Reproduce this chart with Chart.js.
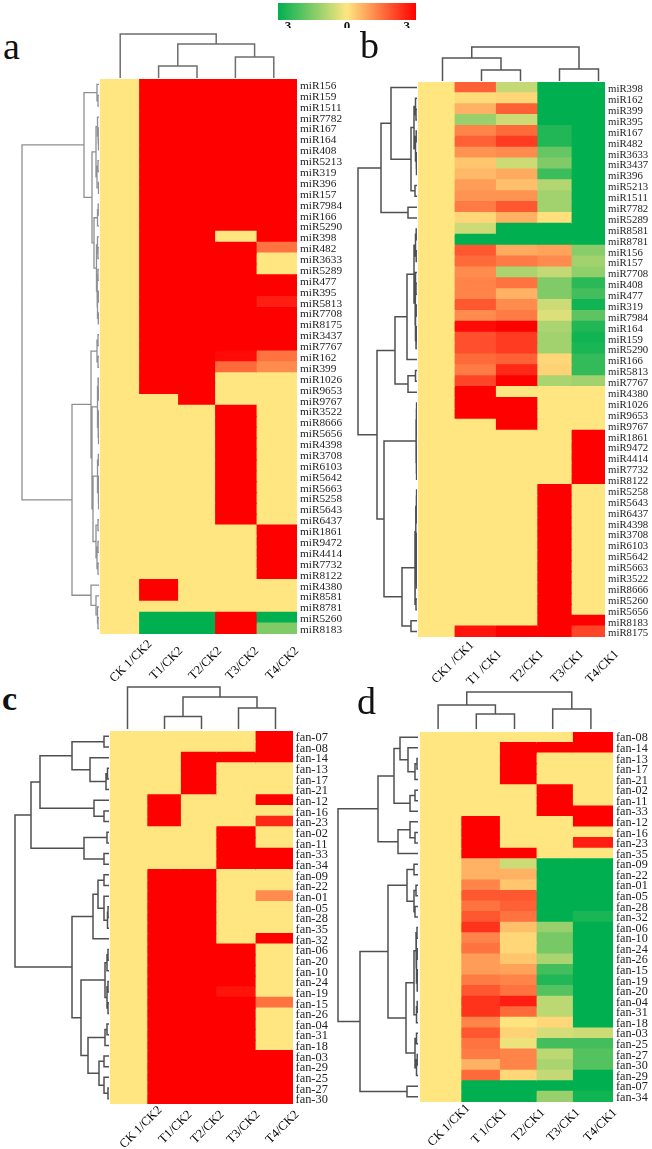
<!DOCTYPE html>
<html><head><meta charset="utf-8">
<style>
html,body{margin:0;padding:0;background:#fff;width:652px;height:1149px;overflow:hidden}
canvas{position:absolute;display:block}
.tag{position:absolute;font-family:"Liberation Serif",serif;color:#111;line-height:1}
</style>
<script src="https://cdn.jsdelivr.net/npm/chart.js@4/dist/chart.umd.min.js"></script>
</head><body>
<script>
// ---------- data ----------
const legendTickValues=[-2.57,0,2.6];
const legendTickLabels=['3','0','3'];

const columnsA=['CK 1/CK2','T1/CK2','T2/CK2','T3/CK2','T4/CK2'];
const columnsB=['CK1 /CK1','T1 /CK1','T2/CK1','T3/CK1','T4/CK1'];
const columnsC=['CK 1/CK2','T1/CK2','T2/CK2','T3/CK2','T4/CK2'];
const columnsD=['CK 1/CK1','T 1/CK1','T2/CK1','T3/CK1','T4/CK1'];

const rowsA=['miR156','miR159','miR1511','miR7782','miR167','miR164','miR408','miR5213','miR319','miR396','miR157','miR7984','miR166','miR5290','miR398','miR482','miR3633','miR5289','miR477','miR395','miR5813','miR7708','miR8175','miR3437','miR7767','miR162','miR399','miR1026','miR9653','miR9767','miR3522','miR8666','miR5656','miR4398','miR3708','miR6103','miR5642','miR5663','miR5258','miR5643','miR6437','miR1861','miR9472','miR4414','miR7732','miR8122','miR4380','miR8581','miR8781','miR5260','miR8183'];
const valuesA=[[0,3,3,3,3],[0,3,3,3,3],[0,3,3,3,3],[0,3,3,3,3],[0,3,3,3,3],[0,3,3,3,3],[0,3,3,3,3],[0,3,3,3,3],[0,3,3,3,3],[0,3,3,3,3],[0,3,3,3,3],[0,3,3,3,3],[0,3,3,3,3],[0,3,3,3,3],
[0,3,3,0,3],[0,3,3,3,1.8],[0,3,3,3,0],[0,3,3,3,0],[0,3,3,3,3],[0,3,3,3,3],[0,3,3,3,2.7],[0,3,3,3,3],[0,3,3,3,3],[0,3,3,3,3],[0,3,3,3,3],[0,3,3,2.9,1.8],[0,3,3,1.9,1.5],[0,3,3,0,0],[0,3,3,0,0],[0,0,3,0,0],
[0,0,0,3,0],[0,0,0,3,0],[0,0,0,3,0],[0,0,0,3,0],[0,0,0,3,0],[0,0,0,3,0],[0,0,0,3,0],[0,0,0,3,0],[0,0,0,3,0],[0,0,0,3,0],[0,0,0,3,0],
[0,0,0,0,3],[0,0,0,0,3],[0,0,0,0,3],[0,0,0,0,3],[0,0,0,0,3],[0,3,0,0,0],[0,3,0,0,0],[0,0,0,0,0],[0,-3,-3,3,-3],[0,-3,-3,3,-1.5]];

const rowsB=['miR398','miR162','miR399','miR395','miR167','miR482','miR3633','miR3437','miR396','miR5213','miR1511','miR7782','miR5289','miR8581','miR8781','miR156','miR157','miR7708','miR408','miR477','miR319','miR7984','miR164','miR159','miR5290','miR166','miR5813','miR7767','miR4380','miR1026','miR9653','miR9767','miR1861','miR9472','miR4414','miR7732','miR8122','miR5258','miR5643','miR6437','miR4398','miR3708','miR6103','miR5642','miR5663','miR3522','miR8666','miR5260','miR5656','miR8183','miR8175'];
const valuesB=[[0,2,-0.7,-3,-3],[0,0.3,0.4,-3,-3],[0,1,2,-3,-3],[0,-1.2,-0.6,-3,-3],[0,1.6,1.9,-2.6,-3],[0,2,2.4,-2.6,-3],[0,1.4,1.5,-1.8,-3],[0,0.7,-0.6,-1.5,-3],[0,0.9,1.1,-2.3,-3],[0,1.3,0.8,-0.9,-3],[0,1.4,1.4,-1.1,-3],[0,1.7,2.1,-1.1,-3],[0,0.4,1,0.2,-3],[0,-0.6,-3,-3,-3],[0,-3,-3,-3,-3],
[0,2.1,1.1,1.2,-1.4],[0,1.9,1.7,1.5,-1.1],[0,1.5,-1,-0.7,-1.3],[0,1.6,1.8,-1.5,-2.5],[0,1.6,1,-1.5,-2.2],[0,2.1,1.5,-0.6,-2.8],[0,1.5,1.7,-0.4,-1.9],[0,2.9,3,-1,-2.6],[0,2.2,2.4,-1.1,-2.8],[0,2.2,2.4,-1.1,-2.7],[0,1.9,2,0.4,-2.4],[0,1.7,2.6,0.5,-2.4],[0,2.3,3,-1,-1.1],
[0,3,0,0,0],[0,3,3,0,0],[0,3,3,0,0],[0,0,3,0,0],[0,0,0,0,3],[0,0,0,0,3],[0,0,0,0,3],[0,0,0,0,3],[0,0,0,0,3],
[0,0,0,3,0],[0,0,0,3,0],[0,0,0,3,0],[0,0,0,3,0],[0,0,0,3,0],[0,0,0,3,0],[0,0,0,3,0],[0,0,0,3,0],[0,0,0,3,0],[0,0,0,3,0],[0,0,0,3,0],[0,0,0,3,0],[0,0,0,3,3],[0,2.8,3,3,2.3]];

const rowsC=['fan-07','fan-08','fan-14','fan-13','fan-17','fan-21','fan-12','fan-16','fan-23','fan-02','fan-11','fan-33','fan-34','fan-09','fan-22','fan-01','fan-05','fan-28','fan-35','fan-32','fan-06','fan-20','fan-10','fan-24','fan-19','fan-15','fan-26','fan-04','fan-31','fan-18','fan-03','fan-29','fan-25','fan-27','fan-30'];
const valuesC=[[0,0,0,0,3],[0,0,0,0,3],[0,0,3,3,3],[0,0,3,0,0],[0,0,3,0,0],[0,0,3,0,0],[0,3,0,0,3],[0,3,0,0,0],[0,3,0,0,2.6],[0,0,0,3,0],[0,0,0,3,0],[0,0,0,3,3],[0,0,0,3,3],
[0,3,3,0,0],[0,3,3,0,0],[0,3,3,0,1.5],[0,3,3,0,0],[0,3,3,0,0],[0,3,3,0,0],[0,3,3,0,3],[0,3,3,3,0],[0,3,3,3,0],[0,3,3,3,0],[0,3,3,3,0],[0,3,3,2.8,0],[0,3,3,3,1.8],[0,3,3,3,0],[0,3,3,3,0],[0,3,3,3,0],[0,3,3,3,0],[0,3,3,3,3],[0,3,3,3,3],[0,3,3,3,3],[0,3,3,3,3],[0,3,3,3,3]];

const rowsD=['fan-08','fan-14','fan-13','fan-17','fan-21','fan-02','fan-11','fan-33','fan-12','fan-16','fan-23','fan-35','fan-09','fan-22','fan-01','fan-05','fan-28','fan-32','fan-06','fan-10','fan-24','fan-26','fan-15','fan-19','fan-20','fan-04','fan-31','fan-18','fan-03','fan-25','fan-27','fan-30','fan-29','fan-07','fan-34'];
const valuesD=[[0,0,0,0,3],[0,0,3,3,3],[0,0,3,0,0],[0,0,3,0,0],[0,0,3,0,0],[0,0,0,3,0],[0,0,0,3,0],[0,0,0,3,3],[0,3,0,0,3],[0,3,0,0,0],[0,3,0,0,2.7],[0,3,3,0,0],
[0,1,-0.6,-3,-3],[0,1,1,-3,-3],[0,1.6,0.7,-3,-3],[0,2.1,2.1,-3,-3],[0,1.8,2,-3,-3],[0,2.1,1.8,-3,-2.7],[0,2.5,0.8,-1.2,-3],[0,1.6,0.4,-1.6,-3],[0,1.8,0.4,-1.6,-3],[0,1.3,0.7,-1,-3],[0,1.3,1.2,-2.2,-3],[0,1.7,1.6,-2.6,-3],[0,2.1,1.8,-2,-3],[0,2.5,2.7,-0.8,-3],[0,2.5,1.9,-0.8,-3],[0,1.6,0.1,0.4,-3],[0,2.1,0.5,-0.5,-0.6],[0,1.8,-0.2,-2.2,-2.2],[0,1.7,1.6,-0.8,-2],[0,1,1.6,-1,-2],[0,1.9,0.4,-0.7,-3],[0,-3,-3,-3,-3],[0,-3,-3,-1.2,-2.8]];

// dendrograms: node = [merge height, child, child]; a bare number is a leaf index
const colTreeA=[44,0,[34,[12,1,2],[21,3,4]]];
const colTreeB=[34,[23,0,[11,1,2]],[12,3,4]];
const colTreeC=[42,0,[32,[12.5,1,2],[21,3,4]]];
const colTreeD=[37,[24,0,[15,1,2]],[20,3,4]];

const rowTreeA=[77,
 [15,[2,0,[1,1,2]],
  [7,[3,[1.5,3,[1,4,[.5,5,6]]],[2,[1,7,8],[.5,9,10]]],
     [5,[1.5,[.8,11,12],13],[2.5,[1.5,14,[1,15,16]],[2,[1,17,18],[1.5,[.7,19,20],[.7,21,22]]]]]]],
 [27,
  [8,[2,[1,23,24],[1,25,26]],
     [7,[1.5,[1,27,[.5,28,29]],[1,[.5,30,31],[.5,32,33]]],
        [6,[1.5,[.7,34,35],[.7,[.4,36,37],[.4,38,39]]],[3,[1,40,41],[2,[1,42,43],[1,44,45]]]]]],
  [8,46,[3,47,[1.5,48,[1,49,50]]]]]];

const rowTreeB=[59,
 [36,[26,0,[6,[3,[1.5,1,[1,2,3]],[1.5,[.8,4,5],[.8,6,[.5,7,8]]]],[2,9,10]]],[9,11,12]],
 [40,
  [22,[10,[3,[1.5,[.8,13,14],[.8,15,16]],[2,[1.5,17,[1,18,19]],[1.5,[.8,20,21],[1,[.5,22,23],24]]]],25],
      [9,[1.5,26,27],28]],
  [33,[1,[.7,[.4,29,30],[.4,31,32]],[.7,[.4,33,34],[.4,35,36]]],
      [15,[2,[1.2,[.7,[.4,37,38],[.4,39,40]],[.7,[.4,41,42],[.4,[.2,43,44],[.2,45,46]]]],[1,47,48]],[6,49,50]]]]];

const rowTreeC=[94,
 [78,
  [69,[37,[5,0,1],[19,2,[3,[1.5,3,4],5]]],[15,6,[5,7,8]]],
  [25,[2,9,10],[5,11,12]]],
 [37,
  [16,[11,[5,13,14],[5,15,[1.5,[1,16,17],18]]],19],
  [28,[4,[2,[1,20,21],22],[2,[1,23,24],[1,25,26]]],
      [21,[4,[2,27,28],29],[10,[5,30,31],[5,32,[1,33,34]]]]]]];

const rowTreeD=[80,
 [40,
  [24,[18,0,[10,1,[3,[1,2,3],4]]],[8,[3,5,6],7]],
  [20,[8,8,[3,9,10]],11]],
 [58,
  [30,[11,[4,12,13],[4,[2,14,15],[3,16,17]]],
      [12,[4,[2,[1,18,19],[1.5,[.8,20,21],[.8,[.4,22,23],24]]],[1.5,[.8,25,26],27]],
          [3,[1.5,28,29],[1.5,[.8,30,31],32]]]],
  [11,33,34]]];

// ---------- layout and style (page pixels) ----------
const legendLayout={left:278,top:3,width:138,barHeight:17,canvasHeight:25};
const panels=[
 {tag:'a',tagLeft:3,tagTop:27,tagSize:38,tagWeight:400,columns:columnsA,rows:rowsA,values:valuesA,left:100,top:79,w:197,h:555,
  colEdges:[0,38.5,77.5,114.5,156,197],labelEnds:[50,81,120,157,197],rowFont:11.3,labelPad:3,labelShift:1.5,tickPad:3,tail:3,
  colTree:colTreeA,colFirst:120,colStep:38.3,colH:46,colGap:1,rowTree:rowTreeA,rowW:80,rowGap:1.5,treeColor:'#6e6e6e',rowColor:'#8f8f8f',rowLine:1.3},
 {tag:'b',tagLeft:360,tagTop:26,tagSize:38,tagWeight:400,columns:columnsB,rows:rowsB,values:valuesB,left:418,top:82,w:187,h:555,
  colEdges:[0,36,77.3,118.7,153,186.7],labelEnds:[54,82,124,164,199],rowFont:10.8,labelPad:3,labelShift:2,tickPad:1,tail:4,
  colTree:colTreeB,colFirst:442.7,colStep:39,colH:36,colGap:1,rowTree:rowTreeB,rowW:62,rowGap:1,treeColor:'#555',rowColor:'#505050',rowLine:1.5},
 {tag:'c',tagLeft:2,tagTop:682,tagSize:34,tagWeight:700,columns:columnsC,rows:rowsC,values:valuesC,left:110,top:731,w:183,h:373,
  colEdges:[0,36.7,70.3,105.7,145,182.7],labelEnds:[50,80,112,148,187],rowFont:12.4,labelPad:2.5,labelShift:1.5,tickPad:-1,tail:2,
  colTree:colTreeC,colFirst:127,colStep:37,colH:44,colGap:2,rowTree:rowTreeC,rowW:97,rowGap:1.5,treeColor:'#555',rowColor:'#505050',rowLine:1.5},
 {tag:'d',tagLeft:357,tagTop:682,tagSize:38,tagWeight:400,columns:columnsD,rows:rowsD,values:valuesD,left:420,top:732,w:193,h:370,
  colEdges:[0,40.7,79.3,116,152.3,192.7],labelEnds:[48,85,123,158,195],rowFont:12.2,labelPad:3,labelShift:1,tickPad:-1,tail:2,
  colTree:colTreeD,colFirst:438,colStep:38.2,colH:39,colGap:3,rowTree:rowTreeD,rowW:82,rowGap:2,treeColor:'#555',rowColor:'#505050',rowLine:1.5}
];
const serif='"Liberation Serif","Times New Roman",serif';
const GREEN=[0,176,80],MID=[255,230,128],RED=[255,0,0];

function blend(v,t){
  const end=v<0?GREEN:RED;
  const c=MID.map((m,i)=>Math.round(m+(end[i]-m)*t));
  return `rgb(${c[0]},${c[1]},${c[2]})`;
}
// the reds of the reference stay orange longer than a straight ramp would
function colorOf(v){
  const t=Math.min(Math.abs(v)/3,1);
  return blend(v,v>0?Math.pow(t,1.35):t);
}
function addCanvas(left,top,width,height){
  const c=document.createElement('canvas');
  c.width=width;c.height=height;
  c.style.left=left+'px';c.style.top=top+'px';
  c.style.width=width+'px';c.style.height=height+'px';
  document.body.appendChild(c);
  return c.getContext('2d');
}
// walk a dendrogram and list its line pieces as {h,p}; NaN breaks the line
function treePath(node){
  const out=[];
  (function walk(n){
    if(typeof n==='number')return{p:n+.5,h:0};
    const a=walk(n[1]),b=walk(n[2]),h=n[0];
    out.push({h:a.h,p:a.p},{h,p:a.p},{h,p:b.p},{h:b.h,p:b.p},{h:NaN,p:NaN});
    return{p:(a.p+b.p)/2,h};
  })(node);
  return out;
}
const base={responsive:false,animation:false,events:[],devicePixelRatio:1,
  plugins:{legend:{display:false},tooltip:{enabled:false},title:{display:false}},
  layout:{padding:0}};
const hidden=(extra)=>Object.assign({display:false,grid:{display:false}},extra);

function heatChart(P){
  const labelW=Math.min(55,652-P.left-P.w), axisH=Math.min(60,1149-P.top-P.h);
  const spaceStep=2.2;
  const anchors=P.labelEnds.map((v,i)=>i?v+P.tail*spaceStep:v);
  const ctx=addCanvas(P.left,P.top,P.w+labelW,P.h+axisH);
  new Chart(ctx,{type:'bar',
    data:{labels:P.rows,datasets:P.columns.map((name,c)=>({
      label:name,grouped:false,barPercentage:1,categoryPercentage:1,borderWidth:0,inflateAmount:.6,
      data:P.values.map(()=>[P.colEdges[c],P.colEdges[c+1]]),
      backgroundColor:P.values.map(r=>colorOf(r[c]))}))},
    options:Object.assign({},base,{indexAxis:'y',scales:{
      x:{type:'linear',position:'bottom',min:0,max:P.w,grid:{display:false,drawTicks:false},border:{display:false},
         afterBuildTicks:s=>{s.ticks=anchors.map(v=>({value:v}));},
         afterFit:s=>{s.height=axisH;s.paddingLeft=s.paddingRight=s.paddingTop=s.paddingBottom=0;},
         ticks:{autoSkip:false,minRotation:45,maxRotation:45,padding:P.tickPad,color:'#000',
                font:{family:serif,size:12.5},callback:(v,i)=>i?P.columns[i]+' '.repeat(P.tail):P.columns[i]}},
      y:{type:'category',position:'right',labels:P.rows,grid:{display:false,drawTicks:false},border:{display:false},
         afterFit:s=>{s.width=labelW;s.paddingTop=s.paddingBottom=0;},
         ticks:{autoSkip:false,padding:P.labelPad,labelOffset:P.labelShift,color:'#222',font:{family:serif,size:P.rowFont}}}
    }})});
}
function colTreeChart(P){
  const width=Math.round(P.colStep*5), left=Math.round(P.colFirst-P.colStep/2);
  const ctx=addCanvas(left,P.top-P.colH-P.colGap,width,P.colH);
  new Chart(ctx,{type:'scatter',
    data:{datasets:[{data:treePath(P.colTree).map(d=>({x:d.p,y:d.h})),showLine:true,spanGaps:false,pointRadius:0,
      borderColor:P.treeColor,borderWidth:1.5,clip:false}]},
    options:Object.assign({},base,{scales:{x:hidden({type:'linear',min:0,max:5}),y:hidden({type:'linear',min:0,max:P.colH})}})});
}
function rowTreeChart(P){
  const ctx=addCanvas(Math.round(P.left-P.rowW-P.rowGap),P.top,P.rowW,P.h);
  new Chart(ctx,{type:'scatter',
    data:{datasets:[{data:treePath(P.rowTree).map(d=>({x:d.h,y:d.p})),showLine:true,spanGaps:false,pointRadius:0,
      borderColor:P.rowColor,borderWidth:P.rowLine,clip:false}]},
    options:Object.assign({},base,{scales:{
      x:hidden({type:'linear',min:0,max:P.rowW,reverse:true}),
      y:hidden({type:'linear',min:0,max:P.rows.length,reverse:true})}})});
}
function legendChart(){
  const L=legendLayout;
  const ctx=addCanvas(L.left,L.top,L.width,L.canvasHeight);
  new Chart(ctx,{type:'bar',
    data:{labels:['scale'],datasets:[{data:[[-3,3]],barPercentage:1,categoryPercentage:1,borderWidth:0,
      backgroundColor:c=>{
        const a=c.chart.chartArea; if(!a)return blend(0,0);
        const g=c.chart.ctx.createLinearGradient(a.left,0,a.right,0);
        g.addColorStop(0,blend(-3,1));g.addColorStop(.5,blend(0,0));g.addColorStop(1,blend(3,1));
        return g;}}]},
    options:Object.assign({},base,{indexAxis:'y',scales:{
      x:{type:'linear',min:-3,max:3,grid:{display:false,drawTicks:false},border:{display:false},
         afterBuildTicks:s=>{s.ticks=legendTickValues.map(v=>({value:v}));},
         afterFit:s=>{s.height=L.canvasHeight-L.barHeight;s.paddingLeft=s.paddingRight=0;},
         ticks:{autoSkip:false,maxRotation:0,minRotation:0,padding:0,color:'#111',
                font:{family:serif,size:13,weight:'bold',lineHeight:1},callback:(v,i)=>legendTickLabels[i]}},
      y:{type:'category',display:false}}})});
}
legendChart();
panels.forEach(P=>{
  const t=document.createElement('div');
  t.className='tag';t.textContent=P.tag;
  t.style.left=P.tagLeft+'px';t.style.top=P.tagTop+'px';
  t.style.fontSize=P.tagSize+'px';t.style.fontWeight=P.tagWeight;
  document.body.appendChild(t);
  rowTreeChart(P);colTreeChart(P);heatChart(P);
});
</script>
</body></html>
